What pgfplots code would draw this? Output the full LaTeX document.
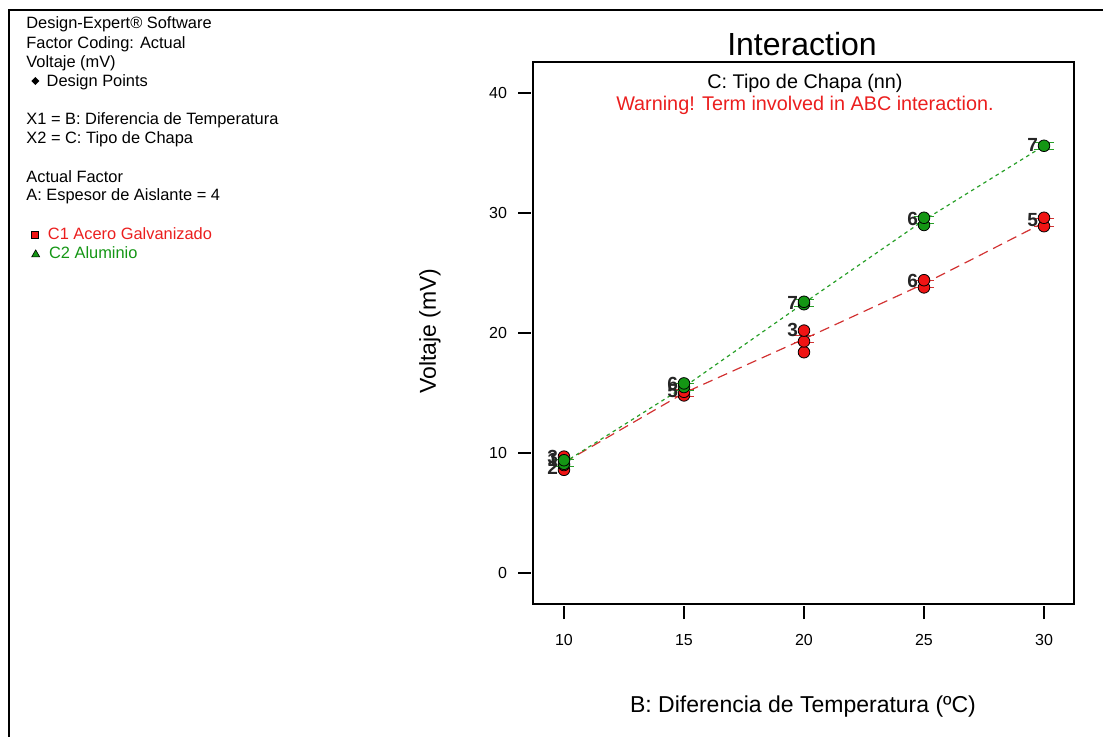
\documentclass[border=0pt]{standalone}
\usepackage{pgfplots}
\usepackage{pgfplotstable}
\pgfplotsset{compat=1.18}
\usepackage{fontspec}
\setmainfont{Liberation Sans}
\definecolor{pred}{RGB}{240,20,20}
\definecolor{pgreen}{RGB}{20,150,20}
\definecolor{lred}{RGB}{210,50,50}
\definecolor{lgreen}{RGB}{40,160,40}
\definecolor{wred}{RGB}{235,30,30}
\newcommand{\PX}[2]{({#1*0.5pt},{-#2*0.5pt})}
\pgfplotstableread{
x y
10 8.6
10 9.0
10 9.4
10 9.7
15 14.8
15 15.1
20 18.4
20 19.3
20 20.2
25 23.8
25 24.4
30 28.9
30 29.6
}\redpts
\pgfplotstableread{
x y
10 9.1
10 9.4
15 15.5
15 15.8
20 22.4
20 22.6
25 29.0
25 29.6
30 35.6
}\greenpts
\pgfplotstableread{
x y
10 9.2
15 15.0
20 19.5
25 24.1
30 29.2
}\redline
\pgfplotstableread{
x y
10 9.2
15 15.5
20 22.5
25 29.4
30 35.6
}\greenline
\pgfplotstableread{
x y
10 8.9
10 9.5
15 14.7
15 15.3
20 19.2
20 19.8
25 23.8
25 24.4
30 28.9
30 29.5
}\redbars
\pgfplotstableread{
x y
10 8.9
10 9.5
15 15.2
15 15.8
20 22.2
20 22.8
25 29.1
25 29.7
30 35.3
30 35.9
}\greenbars
\pgfplotstableread{
x y l
10 9.6 1
10 8.9 2
10 9.8 3
15 15.9 6
15 15.3 5
20 22.7 7
20 20.4 3
25 29.7 6
25 24.5 6
30 35.8 7
30 29.6 5
}\labels
\begin{document}
\begin{tikzpicture}
\useasboundingbox (0,0) rectangle \PX{1103}{737};
\draw[line width=1pt] \PX{9}{737} -- \PX{9}{10} -- \PX{1103}{10};
\begin{axis}[at={(266.5pt,-302pt)}, anchor=south west,
  width=270.5pt, height=271pt, scale only axis,
  xmin=8.71, xmax=31.25, ymin=-2.58, ymax=42.58,
  xtick={10,15,20,25,30}, ytick={0,10,20,30,40},
  tick pos=left,
  tick align=outside, major tick length=6.5pt,
  every tick/.style={black, line width=0.6pt},
  xtick style={yshift=-1pt}, ytick style={xshift=-1pt},
  ticklabel style={font=\fontsize{8}{9}\selectfont},
  xticklabel style={yshift=-5pt},
  yticklabel style={xshift=-3pt},
  /pgf/number format/assume math mode=true,
  axis line style={line width=0.6pt},
  clip=false]
\addplot[lred, line width=0.6pt, dash pattern=on 5pt off 3pt] table {\redline};
\addplot[lgreen, line width=0.6pt, dash pattern=on 1.8pt off 1.8pt] table {\greenline};
\addplot[only marks, mark=-, mark size=5pt, lred, mark options={line width=0.5pt}] table {\redbars};
\addplot[only marks, mark=*, mark size=2.9pt, mark options={fill=pred, draw=black, line width=0.4pt}] table {\redpts};
\addplot[only marks, mark=-, mark size=5pt, lgreen, mark options={line width=0.5pt}] table {\greenbars};
\addplot[only marks, mark=*, mark size=2.9pt, mark options={fill=pgreen, draw=black, line width=0.4pt}] table {\greenpts};
\addplot[only marks, mark=none, nodes near coords, point meta=explicit symbolic,
  every node near coord/.style={anchor=east, xshift=-2.8pt, yshift=-1pt, inner sep=0pt, font=\fontsize{9.5}{10}\selectfont\bfseries, text=black!85}]
  table[meta=l] {\labels};
\end{axis}
% titles and labels
\node[font=\fontsize{16}{18}\selectfont] at \PX{802}{44} {Interaction};
\node[font=\fontsize{9.9}{11}\selectfont] at \PX{805}{83} {C: Tipo de Chapa (nn)};
\node[font=\fontsize{9.9}{11}\selectfont, text=wred] at \PX{805}{105} {Warning! Term involved in ABC interaction.};
\node[font=\fontsize{11.5}{13}\selectfont] at \PX{803}{707} {B: Diferencia de Temperatura (ºC)};
\node[font=\fontsize{11.5}{13}\selectfont, rotate=90] at \PX{430}{331} {Voltaje (mV)};
% left info text
\begin{scope}[every node/.style={anchor=west, inner sep=0pt, font=\fontsize{8.2}{9}\selectfont}]
\node at \PX{26}{24} {Design-Expert® Software};
\node at \PX{26}{44} {Factor Coding: Actual};
\node at \PX{26}{63} {Voltaje (mV)};
\node at \PX{31}{82} {\tikz[baseline=-0.6ex]\fill[black] (0,2pt) -- (2pt,0) -- (0,-2pt) -- (-2pt,0) -- cycle;\, Design Points};
\node at \PX{26}{120} {X1 = B: Diferencia de Temperatura};
\node at \PX{26}{139} {X2 = C: Tipo de Chapa};
\node at \PX{26}{177} {Actual Factor};
\node at \PX{26}{196} {A: Espesor de Aislante = 4};
\node[text=wred] at \PX{31}{234} {\tikz[baseline=-0.6ex]\draw[fill=pred, draw=black, line width=0.3pt] (-1.7pt,-1.7pt) rectangle (1.7pt,1.7pt);\; C1 Acero Galvanizado};
\node[text=pgreen] at \PX{31}{253} {\tikz[baseline=-0.6ex]\draw[fill=pgreen, draw=black, line width=0.3pt] (-2pt,-1.6pt) -- (2pt,-1.6pt) -- (0,1.9pt) -- cycle;\; C2 Aluminio};
\end{scope}
\end{tikzpicture}
\end{document}
